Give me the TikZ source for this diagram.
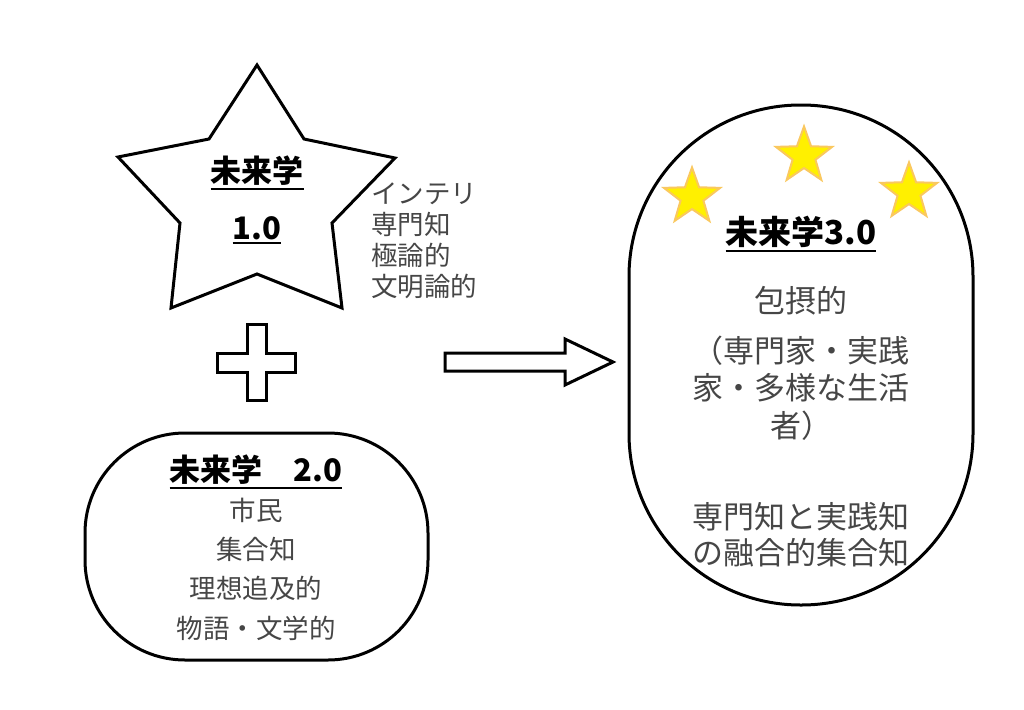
\documentclass[tikz,border=0pt]{standalone}
\usepackage{fontspec}
\setmainfont{Noto Sans CJK JP}
\usetikzlibrary{shapes.geometric}
\definecolor{txtgray}{RGB}{70,70,70}
\definecolor{staryellow}{RGB}{255,240,0}
\definecolor{starborder}{RGB}{250,200,95}
\newcommand\myul[1]{\setbox0\hbox{#1}\vtop{\copy0\kern2.5pt\hrule height 1.8pt width \wd0}}
\tikzset{
  outline/.style={draw=black, line width=3pt, fill=white, line join=miter},
  titletext/.style={font=\fontsize{31}{36}\selectfont\bfseries, text=black, inner sep=0pt},
  bodytext/.style={text=txtgray, inner sep=0pt, align=center},
  smallstar/.style={star, star points=5, star point ratio=2.45, minimum size=59pt, inner sep=0pt,
    fill=staryellow, draw=starborder, line width=2pt},
}
\begin{document}
\begin{tikzpicture}[x=1pt,y=-1pt]
\useasboundingbox (0,0) rectangle (1024,709);
% big star
\draw[outline] (257,65) -- (304,139) -- (395,158) -- (332,223) -- (342,308) -- (257,274)
  -- (171,308) -- (180,223) -- (118,157) -- (209,139) -- cycle;
\node[titletext] (t1a) at (257,173) {\myul{未来学}};
\node[titletext] (t1b) at (257,230) {\myul{1.0}};
\node[bodytext, align=left, anchor=west, font=\fontsize{26.5}{31}\selectfont] (side) at (371,241)
  {インテリ\\専門知\\極論的\\文明論的};
% plus
\draw[outline] (247,324) -- (266,324) -- (266,353) -- (295,353) -- (295,372) -- (266,372)
  -- (266,400) -- (247,400) -- (247,372) -- (217,372) -- (217,353) -- (247,353) -- cycle;
% arrow
\draw[outline] (445,353) -- (565,353) -- (565,339) -- (613,362) -- (565,385) -- (565,371)
  -- (445,371) -- cycle;
% bottom oval
\draw[outline, rounded corners=100pt] (85,433) rectangle (428,660);
\node[titletext] (t2) at (256,472) {\myul{未来学　2.0}};
\node[bodytext, font=\fontsize{26.5}{39.3}\selectfont] (b2) at (256,569)
  {市民\\集合知\\理想追及的\\物語・文学的};
% right capsule
\draw[outline, rounded corners=171.5pt] (629,105) rectangle (973,605);
\node[smallstar] (s1) at (692,197) {};
\node[smallstar] (s2) at (804,156) {};
\node[smallstar] (s3) at (909,192) {};
\node[titletext, font=\fontsize{33}{38}\selectfont\bfseries] (t3) at (801,234) {\myul{未来学3.0}};
\node[bodytext, font=\fontsize{31}{37.5}\selectfont] (c1) at (801,301) {包摂的};
\node[bodytext, font=\fontsize{31}{37.5}\selectfont] (c2) at (801,388)
  {（専門家・実践\\家・多様な生活\\者）};
\node[bodytext, font=\fontsize{31}{36}\selectfont] (c3) at (801,535)
  {専門知と実践知\\の融合的集合知};
\end{tikzpicture}
\end{document}
